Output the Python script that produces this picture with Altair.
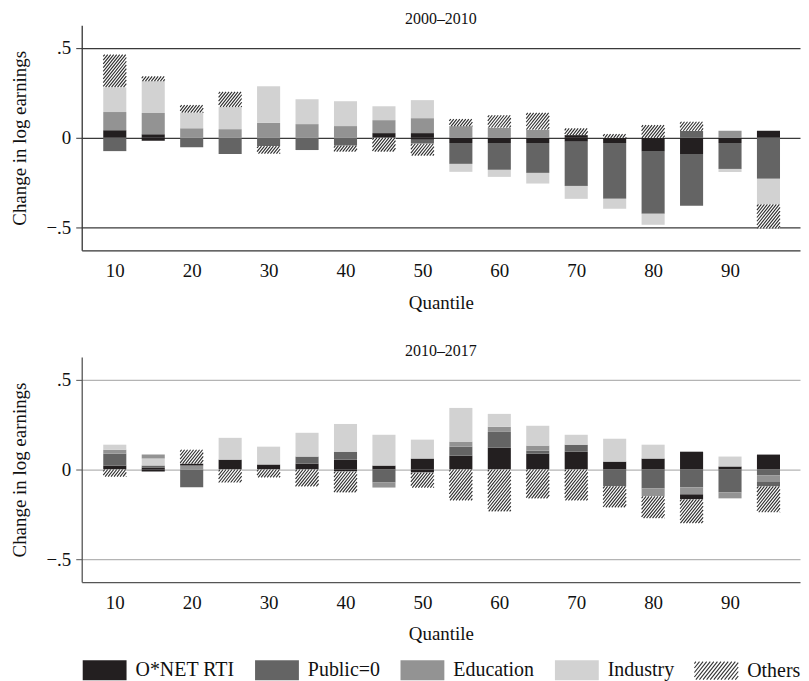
import altair as alt
import pandas as pd

FONT = "Liberation Serif"

QUANTILES = list(range(10, 100, 5))
COMPONENTS = ["O*NET RTI", "Public=0", "Education", "Industry", "Others"]
COLORS = ["#231f20", "#646464", "#939393", "#d2d2d2", "#ffffff"]

# ---- Panel 1: 2000-2010 (signed contributions, quantiles 10..95) ----
RTI_0010 = [0.042, 0.020, 0, 0, 0, 0, 0, 0.026, 0.026, -0.029, -0.029, -0.029, 0.015, -0.029, -0.074, -0.090, -0.029, 0.039]
PUB_0010 = [-0.074, 0, -0.052, -0.090, -0.046, -0.068, -0.044, 0, -0.022, -0.116, -0.149, -0.166, -0.245, -0.310, -0.348, -0.288, -0.144, -0.228]
EDU_0010 = [0.101, 0.118, 0.053, 0.048, 0.083, 0.076, 0.065, 0.072, 0.083, 0.065, 0.057, 0.046, 0, 0, 0, 0, 0.039, 0]
IND_0010 = [0.138, 0.177, 0.087, 0.124, 0.203, 0.138, 0.138, 0.077, 0.100, -0.044, -0.039, -0.059, -0.072, -0.055, -0.061, 0, -0.017, -0.142]
OTH_0010 = [0.181, 0.026, 0.041, 0.083, -0.042, 0, -0.033, -0.077, -0.066, 0.039, 0.068, 0.092, 0.037, 0.020, 0.070, 0.050, 0, -0.133]
# second pieces of a component within one bar: (quantile, component, value, slot)
EXTRA_0010 = [(15, "O*NET RTI", -0.017, "lo"), (50, "O*NET RTI", -0.011, "lo"),
              (70, "O*NET RTI", -0.022, "lo"), (85, "Public=0", 0.039, "mid")]

# ---- Panel 2: 2010-2017 ----
RTI_1017 = [0.022, 0.011, 0, 0.055, 0.028, 0.033, 0.055, 0.022, 0.061, 0.077, 0.121, 0.088, 0.099, 0.044, 0.061, 0.099, 0.017, 0.083]
PUB_1017 = [0.066, 0.011, -0.099, 0, 0, 0.039, 0.044, -0.072, 0, 0.050, 0.088, 0.017, 0.039, -0.094, -0.105, -0.099, -0.127, -0.033]
EDU_1017 = [0.022, 0, 0.022, 0, 0, 0, 0, -0.028, 0, 0.028, 0.028, 0.028, 0, 0, -0.044, -0.039, -0.033, -0.033]
IND_1017 = [0.028, 0.039, 0, 0.121, 0.099, 0.132, 0.154, 0.171, 0.105, 0.187, 0.072, 0.110, 0.055, 0.127, 0.077, 0, 0.055, 0]
OTH_1017 = [-0.039, 0, 0.077, -0.072, -0.044, -0.094, -0.116, 0, -0.083, -0.171, -0.232, -0.160, -0.171, -0.116, -0.121, -0.132, 0, -0.143]
EXTRA_1017 = [(15, "O*NET RTI", -0.011, "lo"), (15, "Education", 0.022, "top"),
              (20, "O*NET RTI", 0.011, "mid"), (40, "O*NET RTI", -0.011, "lo"),
              (50, "O*NET RTI", -0.017, "lo"), (85, "O*NET RTI", -0.028, "mid"),
              (95, "Public=0", -0.028, "mid")]

SLOT = {"lo": 0.5, "mid": 2.5, "top": 3.5}

# ---- geometry / style ----
W, H = 721, 226
XDOM = [5.7, 99.1]
YDOM = [-0.625, 0.625]
HALF = 1.5            # half bar width in quantile units
KX = W / (XDOM[1] - XDOM[0])
KY = H / (YDOM[1] - YDOM[0])
PERIOD = 3.0          # hatch spacing in px
SLOPE = 1.25          # hatch slope


def stack(arrays, extras):
    rows = []
    for k, (comp, vals) in enumerate(zip(COMPONENTS, arrays)):
        for q, v in zip(QUANTILES, vals):
            if v != 0:
                rows.append(dict(q=q, comp=comp, v=v, rank=k))
    for q, comp, v, slot in extras:
        rows.append(dict(q=q, comp=comp, v=v, rank=SLOT[slot]))
    df = pd.DataFrame(rows).sort_values(["q", "rank"])
    out = []
    for q, g in df.groupby("q"):
        pos = neg = 0.0
        for r in g.itertuples():
            if r.v >= 0:
                y0, y1 = pos, pos + r.v
                pos = y1
            else:
                y0, y1 = neg, neg + r.v
                neg = y1
            out.append(dict(q=q, comp=r.comp, y0=y0, y1=y1))
    return pd.DataFrame(out)


def hatch(stk):
    lines = []
    w = 2 * HALF * KX
    for r in stk[stk.comp == "Others"].itertuples():
        lo, hi = min(r.y0, r.y1), max(r.y0, r.y1)
        h = (hi - lo) * KY
        c = -h / SLOPE + PERIOD / 2
        while c < w:
            u1 = max(0.0, c)
            u2 = min(w, c + h / SLOPE)
            if u2 > u1:
                lines.append(dict(x=r.q - HALF + u1 / KX, y=lo + SLOPE * (u1 - c) / KY,
                                  x2=r.q - HALF + u2 / KX, y2=lo + SLOPE * (u2 - c) / KY))
            c += PERIOD
    return pd.DataFrame(lines)


# legend symbol paths (unit box, scaled by sqrt(size)/2 = 22px)
RECT_PATH = "M-1,-0.4545H1V0.4545H-1Z"


def hatch_path():
    r = 22.0
    x0, x1 = -1.0 * r, 1.0 * r
    h = 0.82 * r
    w = x1 - x0
    segs = []
    c = -h / SLOPE + 1.5
    while c < w:
        u1 = max(0.0, c)
        u2 = min(w, c + h / SLOPE)
        if u2 > u1:
            ya = 0.41 * r - SLOPE * (u1 - c)
            yb = 0.41 * r - SLOPE * (u2 - c)
            segs.append("M%.3f,%.3fL%.3f,%.3f" % ((x0 + u1) / r, ya / r, (x0 + u2) / r, yb / r))
        c += 3.6
    return "".join(segs)


HATCH_PATH = hatch_path()
IS_OTHERS = "datum.label === 'Others'"

legend = alt.Legend(
    orient="bottom", direction="horizontal", title=None,
    symbolType={"expr": f"{IS_OTHERS} ? '{HATCH_PATH}' : '{RECT_PATH}'"},
    symbolStrokeColor={"expr": f"{IS_OTHERS} ? '#333333' : 'transparent'"},
    symbolSize=1936, symbolStrokeWidth=1.1,
    labelFont=FONT, labelFontSize=20, labelColor="#111111", labelOffset=8,
    columnPadding=17, offset=3, padding=0,
)


def panel(arrays, extras, title, grid_color, axis_color):
    stk = stack(arrays, extras)
    hat = hatch(stk)
    xscale = alt.Scale(domain=XDOM, nice=False, zero=False)
    yscale = alt.Scale(domain=YDOM, nice=False, zero=False)
    bars = alt.Chart(stk).transform_calculate(
        xl=f"datum.q - {HALF}", xr=f"datum.q + {HALF}"
    ).mark_bar().encode(
        x=alt.X("xl:Q", scale=xscale, axis=alt.Axis(
            values=list(range(10, 100, 10)), format="d", title="Quantile", ticks=False,
            grid=False, domainColor=axis_color, domainWidth=1.3, labelPadding=11,
            labelFont=FONT, labelFontSize=19, labelColor="#111111",
            titleFont=FONT, titleFontSize=19, titleFontWeight="normal", titleColor="#111111",
            titlePadding=13)),
        x2="xr:Q",
        y=alt.Y("y0:Q", scale=yscale, axis=alt.Axis(
            values=[-0.5, 0, 0.5],
            labelExpr="datum.value == 0 ? '0' : replace(format(datum.value, '.1f'), '0.', '.')",
            title="Change in log earnings", grid=True, gridColor=grid_color, gridWidth=1.3,
            domainColor=axis_color, domainWidth=1.3, tickColor=axis_color, tickSize=6,
            labelPadding=5, labelFont=FONT, labelFontSize=19, labelColor="#111111",
            titleFont=FONT, titleFontSize=19, titleFontWeight="normal", titleColor="#111111",
            titlePadding=16)),
        y2="y1:Q",
        color=alt.Color("comp:N", scale=alt.Scale(domain=COMPONENTS, range=COLORS), legend=legend),
    )
    rules = alt.Chart(hat).mark_rule(color="#2a2a2a", strokeWidth=1.1).encode(
        x=alt.X("x:Q", scale=xscale), x2="x2:Q",
        y=alt.Y("y:Q", scale=yscale), y2="y2:Q",
    )
    return alt.layer(bars, rules).properties(
        width=W, height=H,
        title=alt.TitleParams(text=title, font=FONT, fontSize=16, fontWeight="normal",
                              color="#111111", anchor="middle", offset=-2),
    )


p1 = panel([RTI_0010, PUB_0010, EDU_0010, IND_0010, OTH_0010], EXTRA_0010, "2000–2010", "#3a3a3a", "#333333")
p2 = panel([RTI_1017, PUB_1017, EDU_1017, IND_1017, OTH_1017], EXTRA_1017, "2010–2017", "#b4b4b4", "#555555")

chart = alt.vconcat(p1, p2, spacing=31).properties(
    padding={"left": 3, "top": 2, "right": 0, "bottom": 0}
).configure_view(stroke=None)

chart.save("out.html", embed_options={"renderer": "svg", "actions": False})
